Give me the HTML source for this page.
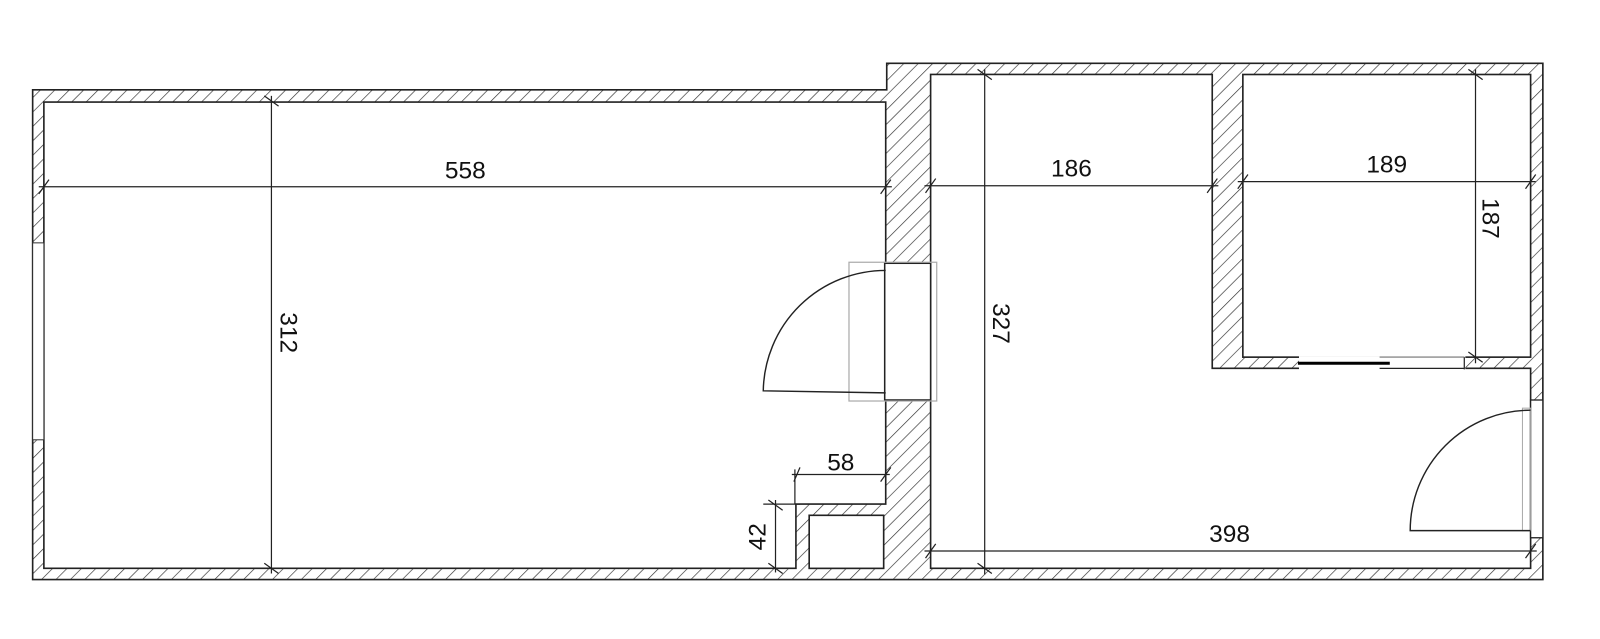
<!DOCTYPE html>
<html><head><meta charset="utf-8"><style>html,body{margin:0;padding:0;background:#fff}svg{display:block}</style></head><body>
<svg width="1600" height="639" viewBox="0 0 1568 626.22" xmlns="http://www.w3.org/2000/svg" font-family="Liberation Sans, sans-serif">
<defs>
<pattern id="h" patternUnits="userSpaceOnUse" width="10" height="10" patternTransform="rotate(45)">
<rect width="10" height="10" fill="#fff"/><line x1="0" y1="0" x2="0" y2="10" stroke="#333" stroke-width="1.3"/>
</pattern>
</defs>
<g stroke="#222" stroke-width="1.6">
<polygon points="32,88 869,88 869,62 1512,62 1512,568 32,568" fill="url(#h)"/>
<polygon points="43,100 868,100 868,494 780,494 780,557 43,557" fill="#fff"/>
<rect x="793" y="505" width="73" height="52" fill="#fff"/>
<polygon points="912,73 1188,73 1188,361 1500,361 1500,557 912,557" fill="#fff"/>
<rect x="1218" y="73" width="282" height="277" fill="#fff"/>
</g>
<rect x="32" y="238" width="11" height="193" fill="#fff" stroke="#333" stroke-width="1"/>
<rect x="867" y="258" width="45" height="134" fill="#fff" stroke="#222" stroke-width="1.5"/>
<rect x="832" y="257" width="86" height="136" fill="none" stroke="#aaa" stroke-width="1.2"/>
<path d="M868,265 A120,120 0 0 0 748,383 L868,385" fill="none" stroke="#222" stroke-width="1.4"/>
<rect x="1273" y="349" width="163" height="14" fill="#fff"/>
<line x1="1272" y1="356" x2="1362" y2="356" stroke="#000" stroke-width="3"/>
<line x1="1352" y1="350" x2="1435" y2="350" stroke="#999" stroke-width="1.5"/>
<line x1="1352" y1="361" x2="1435" y2="361" stroke="#222" stroke-width="1.2"/>
<line x1="1435" y1="350" x2="1435" y2="362" stroke="#222" stroke-width="1.2"/>
<rect x="1500" y="392" width="12" height="135" fill="#fff" stroke="#222" stroke-width="1.3"/>
<rect x="1492" y="400" width="8" height="120" fill="none" stroke="#aaa" stroke-width="1"/>
<path d="M1500,402 A118,118 0 0 0 1382,520 L1500,520" fill="none" stroke="#222" stroke-width="1.4"/>
<g stroke="#222" stroke-width="1.2" fill="none">
<line x1="38" y1="183" x2="874" y2="183"/><line x1="38" y1="190" x2="48" y2="176"/><line x1="863" y1="190" x2="873" y2="176"/>
<line x1="266" y1="94" x2="266" y2="562"/><line x1="259" y1="94" x2="273" y2="104"/><line x1="259" y1="552" x2="273" y2="562"/>
<line x1="906" y1="182" x2="1194" y2="182"/><line x1="907" y1="189" x2="917" y2="175"/><line x1="1183" y1="189" x2="1193" y2="175"/>
<line x1="965" y1="68" x2="965" y2="563"/><line x1="958" y1="68" x2="972" y2="78"/><line x1="958" y1="552" x2="972" y2="562"/>
<line x1="1213" y1="178" x2="1505" y2="178"/><line x1="1213" y1="185" x2="1223" y2="171"/><line x1="1495" y1="185" x2="1505" y2="171"/>
<line x1="1446" y1="68" x2="1446" y2="356"/><line x1="1439" y1="68" x2="1453" y2="78"/><line x1="1439" y1="345" x2="1453" y2="355"/>
<line x1="906" y1="540" x2="1506" y2="540"/><line x1="907" y1="547" x2="917" y2="533"/><line x1="1495" y1="547" x2="1505" y2="533"/>
<line x1="776" y1="465" x2="872" y2="465"/><line x1="778" y1="472" x2="784" y2="458"/><line x1="779" y1="460" x2="779" y2="494"/><line x1="863" y1="472" x2="873" y2="458"/>
<line x1="748" y1="494" x2="784" y2="494"/><line x1="760" y1="490" x2="760" y2="561"/><line x1="753" y1="490" x2="767" y2="500"/><line x1="753" y1="552" x2="767" y2="562"/>
</g>
<g font-size="24" fill="#111" text-anchor="middle">
<text x="456" y="175">558</text>
<text x="1050" y="173">186</text>
<text x="1359" y="169">189</text>
<text x="1205" y="531">398</text>
<text x="824" y="461">58</text>
<text transform="translate(275,326) rotate(90)">312</text>
<text transform="translate(973,317) rotate(90)">327</text>
<text transform="translate(1453,214) rotate(90)">187</text>
<text transform="translate(750,526) rotate(-90)">42</text>
</g>
</svg>
</body></html>
